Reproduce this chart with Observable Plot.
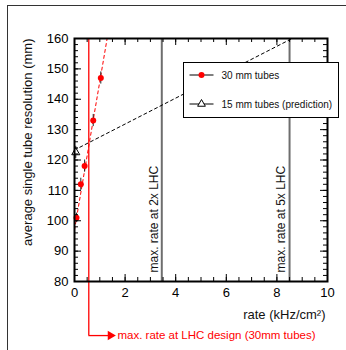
<!DOCTYPE html>
<html>
<head>
<meta charset="utf-8">
<script src="https://cdn.jsdelivr.net/npm/d3@7"></script>
<script src="https://cdn.jsdelivr.net/npm/@observablehq/plot@0.6"></script>
<style>
  html, body { margin: 0; padding: 0; background: #fff; }
  #chart { position: relative; width: 346px; height: 350px; overflow: hidden; }
</style>
</head>
<body>
<div id="chart"></div>
<script>
// ---- data ----
const rate30 = [0.08, 0.25, 0.4, 0.74, 1.04];
const res30 = [101, 112, 118, 133, 147];
const err30 = [1.5, 2, 2, 2, 2];

const rate15 = [0.05];
const res15 = [122.5];
const err15 = [2];

const fit30X = [0, 1.29];
const fit30Y = [97, 160];
const fit15X = [0, 8.6];
const fit15Y = [123.3, 160];

const refRates = [3.45, 8.5];
const refLabels = ["max. rate at 2x LHC", "max. rate at 5x LHC"];

const lhcDesignRate = 0.565;
const lhcDesignLabel = "max. rate at LHC design (30mm tubes)";
const arrowLevel = 62.2;
const arrowEnd = 1.5;

const xMajor = [0, 2, 4, 6, 8, 10];
const xMinor = d3.range(0, 10.01, 0.5);
const yMajor = [80, 90, 100, 110, 120, 130, 140, 150, 160];
const yMinor = d3.range(80, 160.01, 2);

const legendLabels = ["30 mm tubes", "15 mm tubes (prediction)"];

// ---- build ----
const W = 346, H = 350;
const mL = 74, mR = 19, mT = 38, mB = 69;
const fw = W - mL - mR, fh = H - mT - mB;

const pts30 = rate30.map((x, i) => ({x, y: res30[i], e: err30[i]}));
const pts15 = rate15.map((x, i) => ({x, y: res15[i], e: err15[i]}));
const line30 = fit30X.map((x, i) => ({x, y: fit30Y[i]}));
const line15 = fit15X.map((x, i) => ({x, y: fit15Y[i]}));
const refs = refRates.map((x, i) => ({x, label: refLabels[i]}));

const majLen = 7, minLen = 4;

const chart = Plot.plot({
  width: W, height: H,
  marginLeft: mL, marginRight: mR, marginTop: mT, marginBottom: mB,
  style: {fontFamily: "'Liberation Sans', Arial, Helvetica, sans-serif", fontSize: "13px", background: "white", overflow: "visible"},
  x: {domain: [0, 10]},
  y: {domain: [80, 160]},
  marks: [
    // reference lines
    Plot.ruleX(refs, {x: "x", y1: 80, y2: 160, stroke: "#6e6e6e", strokeWidth: 2}),
    Plot.text(refs, {x: "x", y: () => 80, text: "label", rotate: -90, textAnchor: "start", lineAnchor: "middle", dx: -8, dy: -9, fontSize: 12, fill: "#111"}),
    // fitted dashed lines
    Plot.line(line15, {x: "x", y: "y", stroke: "black", strokeWidth: 1, strokeDasharray: "3,3"}),
    Plot.line(line30, {x: "x", y: "y", stroke: "red", strokeWidth: 1, strokeDasharray: "3,3"}),
    // LHC design line with arrow
    Plot.ruleX([lhcDesignRate], {x: d => d, y1: 160, y2: arrowLevel, stroke: "red", strokeWidth: 1.3}),
    Plot.ruleY([arrowLevel], {y: d => d, x1: lhcDesignRate, x2: arrowEnd, stroke: "red", strokeWidth: 1.3}),
    Plot.dot([arrowEnd], {x: d => d, y: () => arrowLevel, symbol: "triangle", fill: "red", stroke: "none", r: 3.5, rotate: 90, dx: -2}),
    Plot.text([lhcDesignLabel], {x: () => arrowEnd, y: () => arrowLevel, text: d => d, textAnchor: "start", lineAnchor: "middle", dx: 5, fontSize: 11.5, fill: "red"}),
    // error bars
    Plot.ruleX(pts30, {x: "x", y1: d => d.y - d.e, y2: d => d.y + d.e, stroke: "#222", strokeWidth: 1}),
    Plot.ruleX(pts15, {x: "x", y1: d => d.y - d.e, y2: d => d.y + d.e, stroke: "#222", strokeWidth: 1}),
    // points
    Plot.dot(pts30, {x: "x", y: "y", r: 3, fill: "red", stroke: "none"}),
    Plot.dot(pts15, {x: "x", y: "y", r: 3, symbol: "triangle", fill: "white", stroke: "black", strokeWidth: 1}),
    // inward ticks: bottom, top
    Plot.tickX(xMajor, {x: d => d, insetTop: fh - majLen, stroke: "black"}),
    Plot.tickX(xMinor, {x: d => d, insetTop: fh - minLen, stroke: "black"}),
    Plot.tickX(xMajor, {x: d => d, insetBottom: fh - majLen, stroke: "black"}),
    Plot.tickX(xMinor, {x: d => d, insetBottom: fh - minLen, stroke: "black"}),
    // inward ticks: left, right
    Plot.tickY(yMajor, {y: d => d, insetRight: fw - majLen, stroke: "black"}),
    Plot.tickY(yMinor, {y: d => d, insetRight: fw - minLen, stroke: "black"}),
    Plot.tickY(yMajor, {y: d => d, insetLeft: fw - majLen, stroke: "black"}),
    Plot.tickY(yMinor, {y: d => d, insetLeft: fw - minLen, stroke: "black"}),
    // axes labels
    Plot.axisX({ticks: xMajor, tickSize: 0, tickPadding: 6, fontSize: 13, label: null, tickFormat: d3.format("d")}),
    Plot.axisY({ticks: yMajor, tickSize: 0, tickPadding: 6, fontSize: 13, label: null, tickFormat: d3.format("d")}),
    Plot.text(["rate (kHz/cm²)"], {frameAnchor: "bottom-right", text: d => d, textAnchor: "end", lineAnchor: "middle", dx: -2, dy: 33, fontSize: 13, fill: "#111"}),
    Plot.text(["average single tube resolution (mm)"], {frameAnchor: "top-left", text: d => d, rotate: -90, textAnchor: "end", lineAnchor: "middle", dx: -47, fontSize: 13, fill: "#111"}),
    Plot.frame({stroke: "black", strokeWidth: 2})
  ]
});

document.getElementById("chart").appendChild(chart);

// outer canvas border and legend
const svg = d3.select(chart);
svg.append("rect")
  .attr("x", 7.5).attr("y", 5.5).attr("width", 400).attr("height", 400)
  .attr("fill", "none").attr("stroke", "#333").attr("stroke-width", 1);

const lg = svg.append("g").attr("transform", "translate(183.5,62.5)");
lg.append("rect").attr("width", 155).attr("height", 55)
  .attr("fill", "white").attr("stroke", "black").attr("stroke-width", 1);
const rows = [12.5, 41.5];
rows.forEach((ry, i) => {
  lg.append("line").attr("x1", 6).attr("x2", 30).attr("y1", ry).attr("y2", ry)
    .attr("stroke", "black").attr("stroke-width", 1);
  if (i === 0) {
    lg.append("circle").attr("cx", 18).attr("cy", ry).attr("r", 3).attr("fill", "red");
  } else {
    lg.append("path").attr("d", d3.symbol(d3.symbolTriangle, 26)())
      .attr("transform", `translate(18,${ry})`)
      .attr("fill", "white").attr("stroke", "black").attr("stroke-width", 1);
  }
  lg.append("text").attr("x", 38).attr("y", ry).attr("dy", "0.35em")
    .attr("text-anchor", "start")
    .attr("font-size", 10).attr("fill", "#111")
    .attr("font-family", "'Liberation Sans', Arial, sans-serif")
    .text(legendLabels[i]);
});
</script>
</body>
</html>
